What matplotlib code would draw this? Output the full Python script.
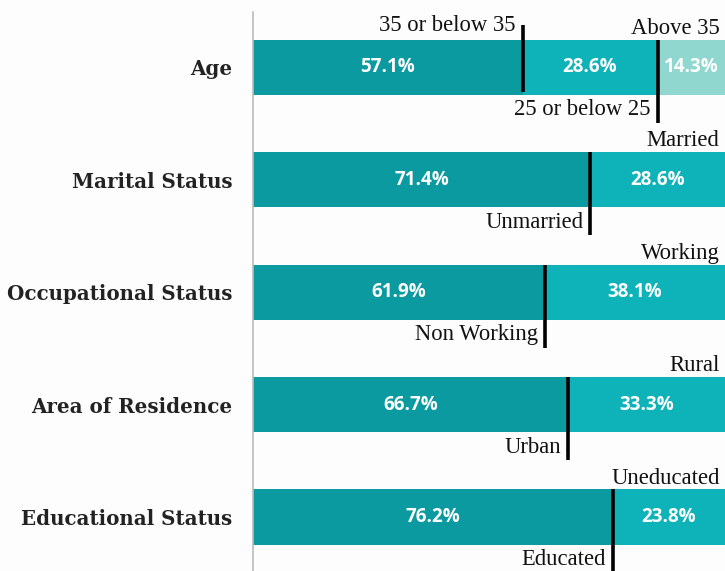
import matplotlib
matplotlib.use("Agg")
import matplotlib.pyplot as plt

categories = ["Age", "Marital Status", "Occupational Status", "Area of Residence", "Educational Status"]
seg1 = [57.1, 71.4, 61.9, 66.7, 76.2]
seg2 = [28.6, 28.6, 38.1, 33.3, 23.8]
seg3 = [14.3, 0, 0, 0, 0]
below_labels = ["25 or below 25", "Unmarried", "Non Working", "Urban", "Educated"]
above_labels = ["Above 35", "Married", "Working", "Rural", "Uneducated"]
age_first_label = "35 or below 35"

c1, c2, c3 = "#0C9AA1", "#0EB3B9", "#8FD7CF"

fig = plt.figure(figsize=(7.25, 5.71), dpi=100, facecolor="#FDFDFD")
ax = fig.add_axes([253/725, 0, 472/725, 559/571])
ax.set_facecolor("#FDFDFD")

y = list(range(len(categories)))
h = 0.49
ax.barh(y, seg1, height=h, color=c1)
ax.barh(y, seg2, left=seg1, height=h, color=c2)
left3 = [a + b for a, b in zip(seg1, seg2)]
ax.barh(y, seg3, left=left3, height=h, color=c3)

pct_kw = dict(color="white", fontsize=13.5, fontweight="bold", family="Open Sans",
              ha="center", va="center")
for i in y:
    ax.text(seg1[i] / 2, i, f"{seg1[i]:.1f}%", **pct_kw)
    ax.text(seg1[i] + seg2[i] / 2, i, f"{seg2[i]:.1f}%", **pct_kw)
    if seg3[i] > 0:
        ax.text(left3[i] + seg3[i] / 2, i, f"{seg3[i]:.1f}%", **pct_kw)

lab_kw = dict(fontsize=16.3, family="Liberation Serif", color="#111111", va="center", ha="right")
lw = 2.6
for i in y:
    if seg3[i] > 0:
        ax.vlines(seg1[i], i - 0.37, i + 0.22, color="black", lw=lw)
        ax.annotate(age_first_label, (seg1[i], i - 0.37), xytext=(-5, 0),
                    textcoords="offset points", **lab_kw)
        xb = left3[i]
    else:
        xb = seg1[i]
    ax.vlines(xb, i - h / 2, i + h / 2 + 0.25, color="black", lw=lw)
    ax.annotate(below_labels[i], (xb, i + h / 2 + 0.135), xytext=(-5, 0),
                textcoords="offset points", **lab_kw)
    ax.annotate(above_labels[i], (100, i - h / 2 - 0.10), xytext=(-4, 0),
                textcoords="offset points", **lab_kw)

ax.set_xlim(0, 100)
ax.set_ylim(4.48, -0.49)
ax.set_yticks(y)
ax.set_yticklabels(categories, family="DejaVu Serif", fontweight="bold",
                   fontsize=14.3, color="#222222")
ax.tick_params(axis="y", length=0, pad=15)
ax.set_xticks([])
for s in ["top", "right", "bottom"]:
    ax.spines[s].set_visible(False)
ax.spines["left"].set_color("#BBBBBB")
ax.spines["left"].set_linewidth(1.2)

fig.savefig("out.png", dpi=100, facecolor=fig.get_facecolor())
